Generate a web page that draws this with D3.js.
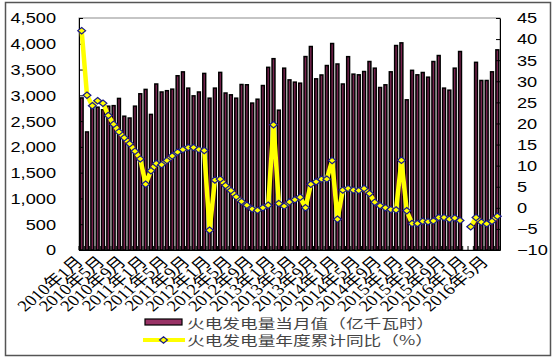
<!DOCTYPE html>
<html lang="zh">
<head>
<meta charset="UTF-8">
<title>火电发电量</title>
<script src="https://d3js.org/d3.v7.min.js"></script>
<style>
  body { margin: 0; background: #fff; }
  svg { display: block; }
</style>
</head>
<body>
<script>
const width = 556, height = 360;

const months = [
  '2010年1月','2010年2月','2010年3月','2010年4月','2010年5月','2010年6月','2010年7月','2010年8月','2010年9月','2010年10月','2010年11月','2010年12月',
  '2011年1月','2011年2月','2011年3月','2011年4月','2011年5月','2011年6月','2011年7月','2011年8月','2011年9月','2011年10月','2011年11月','2011年12月',
  '2012年1月','2012年2月','2012年3月','2012年4月','2012年5月','2012年6月','2012年7月','2012年8月','2012年9月','2012年10月','2012年11月','2012年12月',
  '2013年1月','2013年2月','2013年3月','2013年4月','2013年5月','2013年6月','2013年7月','2013年8月','2013年9月','2013年10月','2013年11月','2013年12月',
  '2014年1月','2014年2月','2014年3月','2014年4月','2014年5月','2014年6月','2014年7月','2014年8月','2014年9月','2014年10月','2014年11月','2014年12月',
  '2015年1月','2015年2月','2015年3月','2015年4月','2015年5月','2015年6月','2015年7月','2015年8月','2015年9月','2015年10月','2015年11月','2015年12月',
  '2016年1月','2016年2月','2016年3月','2016年4月','2016年5月','2016年6月','2016年7月'
];

// 火电发电量当月值（亿千瓦时）
const thermal = [
  2950,2290,2810,2770,2720,2790,2800,2940,2595,2560,2790,3030,
  3115,2630,3220,3065,3090,3120,3380,3455,3140,2990,3065,3425,
  2945,3140,3445,3045,3010,2945,3210,3205,2850,2925,3190,3543,
  3711,2712,3527,3300,3256,3236,3752,3947,3320,3395,3578,4005,
  3608,3220,3750,3411,3398,3462,3656,3527,3152,3204,3456,3966,
  4018,2913,3485,3398,3443,3352,3656,3772,3140,3100,3527,3850,
  null,null,3640,3288,3288,3456,3882
];

// 火电发电量年度累计同比（%）
const yoy = [
  42.0,26.7,24.2,25.4,24.8,21.9,19.8,18.0,16.6,15.2,13.4,11.6,
  5.6,8.8,10.5,10.2,11.2,12.3,13.2,13.8,14.3,14.3,13.8,13.6,
  -5.3,6.6,6.8,5.3,4.1,2.6,1.5,0.6,-0.3,-0.6,0.0,0.6,
  19.7,1.0,0.4,1.4,1.9,2.5,0.0,5.6,6.2,6.8,6.8,11.2,
  -2.7,4.2,4.6,4.2,4.1,4.6,3.4,1.3,0.5,0.0,-0.4,-0.5,
  11.3,-0.7,-3.7,-3.7,-3.2,-3.3,-3.1,-2.3,-2.3,-2.7,-2.4,-3.0,
  null,-4.5,-2.3,-3.4,-3.8,-3.2,-2.0
];

const leftTicks = [0, 500, 1000, 1500, 2000, 2500, 3000, 3500, 4000, 4500];
const rightTicks = [-10, -5, 0, 5, 10, 15, 20, 25, 30, 35, 40, 45];
const legendNames = ['火电发电量当月值（亿千瓦时）', '火电发电量年度累计同比（%）'];

const plot = { left: 79, right: 500, top: 18, bottom: 250 };
const sx = 1.3; // the source picture is stretched sideways
const sans = "'Liberation Sans', Arial, sans-serif";
const cjk = "'Noto Sans CJK SC', sans-serif";

const svg = d3.select('body').append('svg')
  .attr('width', width)
  .attr('height', height);

// outer frame
svg.append('rect')
  .attr('x', 5.5).attr('y', 2.5)
  .attr('width', 545).attr('height', 353)
  .attr('fill', '#fff')
  .attr('stroke', '#555')
  .attr('stroke-width', 1.5);

const pad = 0.46;
const x = d3.scaleBand().domain(months)
  .range([plot.left, plot.right])
  .paddingInner(pad).paddingOuter(pad / 2);
const bw = x.bandwidth();
const yL = d3.scaleLinear().domain([0, 4500]).range([plot.bottom, plot.top]);
const yR = d3.scaleLinear().domain([-10, 45]).range([plot.bottom, plot.top]);

// plot area frame
svg.append('rect')
  .attr('x', plot.left).attr('y', plot.top)
  .attr('width', plot.right - plot.left).attr('height', plot.bottom - plot.top)
  .attr('fill', 'none')
  .attr('stroke', '#8c8c8c');

const rows = months.map((m, i) => ({ m, v: thermal[i], p: yoy[i] }));

svg.append('g')
  .selectAll('rect')
  .data(rows.filter(d => d.v != null))
  .join('rect')
  .attr('x', d => x(d.m))
  .attr('y', d => yL(d.v))
  .attr('width', bw)
  .attr('height', d => yL(0) - yL(d.v))
  .attr('fill', '#7a2450')
  .attr('stroke', '#000')
  .attr('stroke-width', 1.5);

// left axis
const gL = svg.append('g')
  .attr('transform', `translate(${plot.left},0)`)
  .call(d3.axisLeft(yL).tickValues(leftTicks).tickSizeInner(-4).tickSizeOuter(0).tickFormat(d3.format(',')));
gL.select('.domain').attr('stroke', '#000');
gL.selectAll('.tick line').attr('stroke', '#000');
gL.selectAll('.tick text')
  .attr('x', 0).attr('dy', '0.35em')
  .attr('transform', `translate(-23,0) scale(${sx},1)`)
  .attr('fill', '#000')
  .style('font-family', sans).style('font-size', '14px');

// right axis
const gR = svg.append('g')
  .attr('transform', `translate(${plot.right},0)`)
  .call(d3.axisRight(yR).tickValues(rightTicks).tickSizeInner(-4).tickSizeOuter(0));
gR.select('.domain').attr('stroke', '#000');
gR.selectAll('.tick line').attr('stroke', '#000');
gR.selectAll('.tick text')
  .attr('x', 0).attr('dy', '0.35em')
  .attr('text-anchor', 'start')
  .attr('transform', `translate(17,0) scale(${sx},1)`)
  .attr('fill', '#000')
  .style('font-family', sans).style('font-size', '14px');

// bottom axis with ticks between categories
const gB = svg.append('g')
  .attr('transform', `translate(0,${plot.bottom})`)
  .call(d3.axisBottom(x).tickSize(0).tickFormat(''));
gB.select('.domain').attr('stroke', '#000');
const edge = (x.step() - bw) / 2;
gB.selectAll('line.cat')
  .data(months.concat(['end']))
  .join('line')
  .attr('class', 'cat')
  .attr('x1', (d, i) => i < months.length ? x(d) - edge : x(months[i - 1]) + bw + edge)
  .attr('x2', (d, i) => i < months.length ? x(d) - edge : x(months[i - 1]) + bw + edge)
  .attr('y1', 0).attr('y2', -4)
  .attr('stroke', '#000');

svg.append('g')
  .selectAll('text')
  .data(months.filter((d, i) => i % 4 === 0))
  .join('text')
  .attr('transform', d => `translate(${x(d) + bw / 2 - 2},259) scale(1.2,1) rotate(-45)`)
  .attr('text-anchor', 'end')
  .attr('dy', '0.35em')
  .style('font-family', "'Liberation Serif', 'Noto Sans CJK SC', serif")
  .style('font-size', '15.5px')
  .text(d => d);

// yoy line
const line = d3.line()
  .defined(d => d.p != null)
  .x(d => x(d.m) + bw / 2)
  .y(d => yR(d.p));
svg.append('path')
  .datum(rows)
  .attr('d', line)
  .attr('fill', 'none')
  .attr('stroke', '#ffff00')
  .attr('stroke-width', 4.5)
  .attr('stroke-linejoin', 'round');

const diamond = 'M0,-3.2L3.9,0L0,3.2L-3.9,0Z';
svg.append('g')
  .selectAll('path')
  .data(rows.filter(d => d.p != null))
  .join('path')
  .attr('d', diamond)
  .attr('transform', d => `translate(${x(d.m) + bw / 2},${yR(d.p)})`)
  .attr('fill', '#ffff00')
  .attr('stroke', '#1a1a8c')
  .attr('stroke-width', 1.2);

// legend
const lg = svg.append('g');
lg.append('rect')
  .attr('x', 145).attr('y', 319).attr('width', 37).attr('height', 6)
  .attr('fill', '#993366').attr('stroke', '#000').attr('stroke-width', 1.2);
lg.append('line')
  .attr('x1', 143).attr('x2', 185).attr('y1', 340).attr('y2', 340)
  .attr('stroke', '#ffff00').attr('stroke-width', 4);
lg.append('path')
  .attr('d', diamond)
  .attr('transform', 'translate(163.5,340)')
  .attr('fill', '#ffff00').attr('stroke', '#1a1a8c').attr('stroke-width', 1.2);
lg.selectAll('text')
  .data(legendNames)
  .join('text')
  .attr('transform', (d, i) => `translate(187,${323 + i * 17}) scale(1.36,1)`)
  .attr('dy', '0.35em')
  .attr('fill', '#444')
  .style('font-family', cjk)
  .style('font-size', '13px')
  .text(d => d);
</script>
</body>
</html>
